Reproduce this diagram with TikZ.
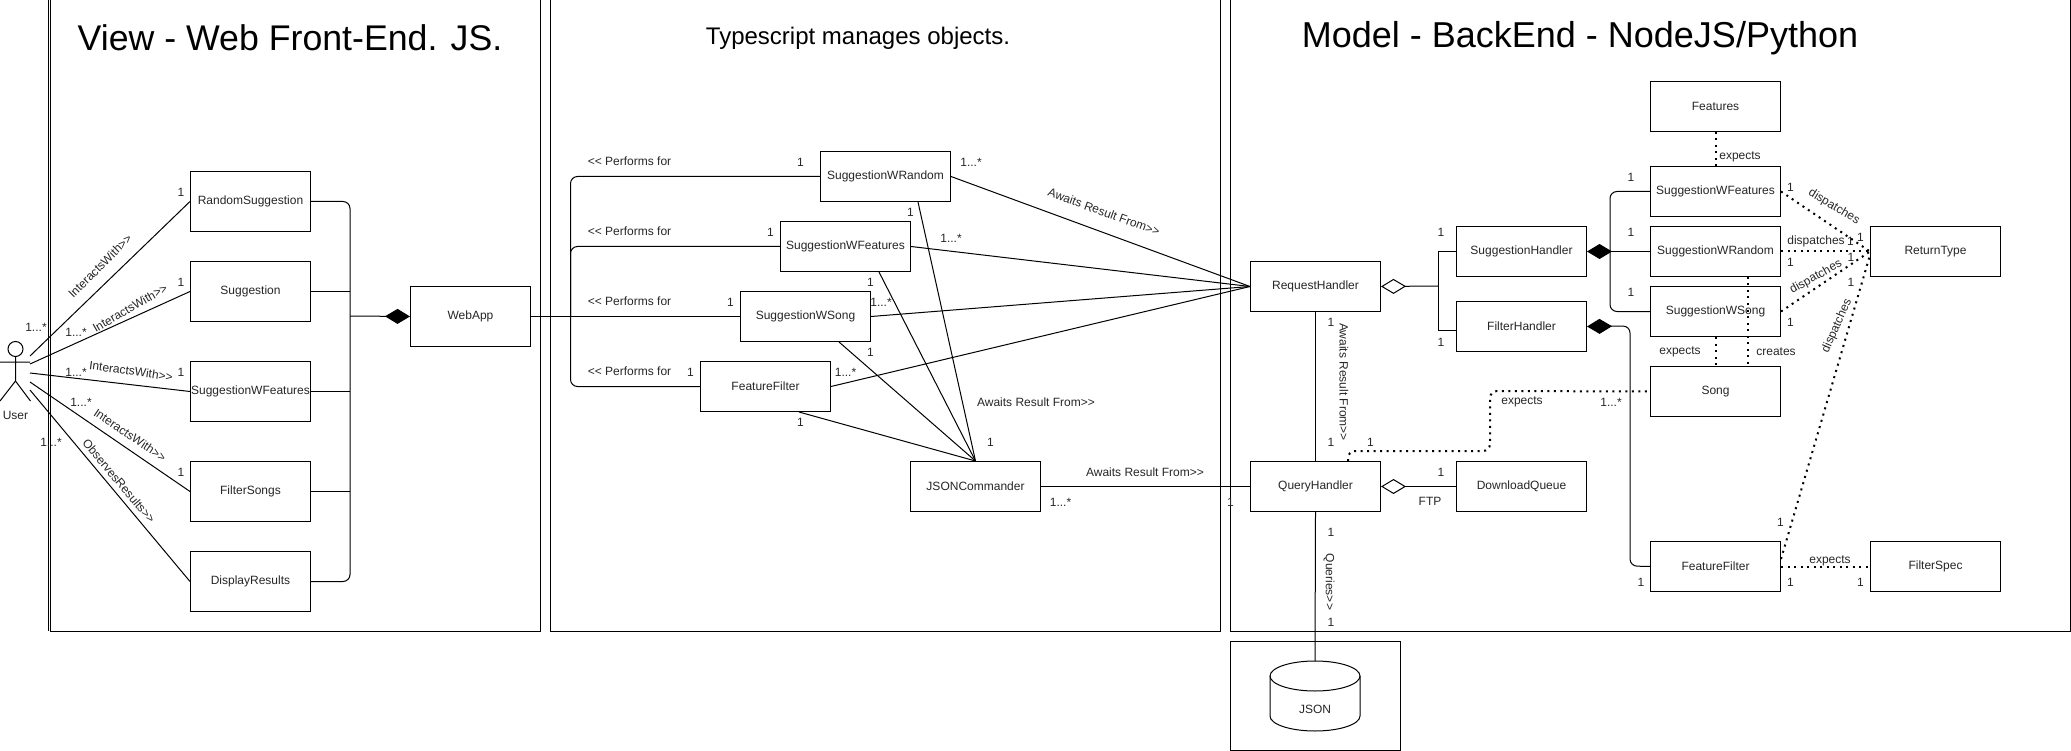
\documentclass[tikz,border=0pt]{standalone}
\usepackage{fontspec}
\setmainfont{Liberation Sans}
\usetikzlibrary{arrows.meta,calc}
\newcounter{labn}
\newcommand\mylab[4][]{\stepcounter{labn}\node[lbl,#1] (t\arabic{labn}) at (#2,#3) {#4};}
\tikzset{
  lbl/.style={inner sep=0pt,text=black!85,font=\fontsize{12}{14}\selectfont},
  box/.style={draw=black,fill=white,line width=1pt,inner sep=0pt,font=\fontsize{12}{14}\selectfont,text=black!85},
  ln/.style={draw=black,line width=1pt},
  dots/.style={draw=black,line width=2pt,dash pattern=on 2pt off 4.5pt},
  panel/.style={draw=black,line width=1pt,fill=none},
  title/.style={inner sep=0pt,text=black},
  fd/.style={{Diamond[length=25pt,width=15pt,fill=black]}-},
  od/.style={{Diamond[open,length=25pt,width=15pt,line width=1pt]}-},
}
\newcommand\bx[6]{\node[box,minimum width=#4pt,minimum height=#5pt,anchor=north west] (#1) at (#2,#3) {#6};}
\begin{document}
\begin{tikzpicture}[x=1pt,y=-1pt]
\useasboundingbox (0,-1) rectangle (2071,750);
% panels
\draw[panel] (48.5,-1) -- (48.5,630);
\draw[panel] (50,-1) rectangle (540.5,630);
\draw[panel] (550,-1) rectangle (1220.5,630);
\draw[panel] (1230,-1) rectangle (2070,630);
\draw[panel] (1230,640) rectangle (1400.5,749.5);
% titles
\node[title,font=\fontsize{35.7}{40}\selectfont] (titleview) at (290,37) {View - Web Front-End. JS.};
\node[title,font=\fontsize{24}{28}\selectfont] (titlemid) at (858,37) {Typescript manages objects.};
\node[title,font=\fontsize{36}{40}\selectfont] (titlemodel) at (1580,37) {Model - BackEnd - NodeJS/Python};
% actor
\draw[ln] (15.5,348) circle (7.5);
\draw[ln] (15.5,355.5) -- (15.5,380) (0,361) -- (30,361) (0,400) -- (15.5,380) -- (30.5,400);
\node[lbl] (user) at (15.5,414) {User};
\coordinate (u1) at (30,355);
\coordinate (u2) at (30,363);
\coordinate (u3) at (30,372);
\coordinate (u4) at (30,381);
\coordinate (u5) at (30,389);
% view boxes
\bx{rs}{190}{170}{120}{60}{RandomSuggestion}
\bx{sg}{190}{260}{120}{60}{Suggestion}
\bx{swf}{190}{360}{120}{60}{SuggestionWFeatures}
\bx{fs}{190}{460}{120}{60}{FilterSongs}
\bx{dr}{190}{550}{120}{60}{DisplayResults}
\bx{wa}{410}{285}{120}{60}{WebApp}
% middle boxes
\bx{mr}{820}{150}{130}{50}{SuggestionWRandom}
\bx{mf}{780}{220}{130}{50}{SuggestionWFeatures}
\bx{ms}{740}{290}{130}{50}{SuggestionWSong}
\bx{mff}{700}{360}{130}{50}{FeatureFilter}
\bx{jc}{910}{460}{130}{50}{JSONCommander}
% model boxes
\bx{rh}{1250}{260}{130}{50}{RequestHandler}
\bx{qh}{1250}{460}{130}{50}{QueryHandler}
\bx{sh}{1456}{225}{130}{50}{SuggestionHandler}
\bx{fh}{1456}{300}{130}{50}{FilterHandler}
\bx{dq}{1456}{460}{130}{50}{DownloadQueue}
\bx{fe}{1650}{80}{130}{50}{Features}
\bx{bf}{1650}{165}{130}{50}{SuggestionWFeatures}
\bx{br}{1650}{225}{130}{50}{SuggestionWRandom}
\bx{bs}{1650}{285}{130}{50}{SuggestionWSong}
\bx{so}{1650}{365}{130}{50}{Song}
\bx{bff}{1650}{540}{130}{50}{FeatureFilter}
\bx{rt}{1870}{225}{130}{50}{ReturnType}
\bx{fsp}{1870}{540}{130}{50}{FilterSpec}
% database
\coordinate (dbtop) at (1315,660);
\draw[ln,fill=white] (1270,675) arc[start angle=180,end angle=360,x radius=45,y radius=15] -- (1360,715) arc[start angle=0,end angle=180,x radius=45,y radius=15] -- cycle;
\draw[ln] (1270,675) arc[start angle=180,end angle=0,x radius=45,y radius=15];
\node[lbl] (jsonlab) at (1315,708) {JSON};
% user connectors
\draw[ln] (u1) -- (rs.west);
\draw[ln] (u2) -- (sg.west);
\draw[ln] (u3) -- (swf.west);
\draw[ln] (u4) -- (fs.west);
\draw[ln] (u5) -- (dr.west);
% view bus
\coordinate (busa) at (350,315);
\draw[ln,rounded corners=7] (rs.east) -- (rs.east -| busa) -- (dr.east -| busa) -- (dr.east);
\draw[ln] (sg.east) -- (sg.east -| busa);
\draw[ln] (swf.east) -- (swf.east -| busa);
\draw[ln] (fs.east) -- (fs.east -| busa);
\draw[ln,fd] (wa.west) -- (busa);
\draw[ln] (wa.east) -- (ms.west);
% performs for bus
\coordinate (busb) at (570.5,315);
\draw[ln,rounded corners=7] (mr.west) -- (mr.west -| busb) -- (mff.west -| busb) -- (mff.west);
\draw[ln,rounded corners=7] (mf.west) -- (mf.west -| busb) -- (busb);
% awaits to request
\draw[ln] (mr.east) -- (rh.west);
\draw[ln] (mf.east) -- (rh.west);
\draw[ln] (ms.east) -- (rh.west);
\draw[ln] (mff.east) -- (rh.west);
% to commander
\coordinate (c1) at ($(mr.south west)+(98,0)$);
\coordinate (c2) at ($(mf.south west)+(99,0)$);
\coordinate (c3) at ($(ms.south west)+(99,0)$);
\coordinate (c4) at ($(mff.south west)+(99,0)$);
\draw[ln] (c1) -- (jc.north);
\draw[ln] (c2) -- (jc.north);
\draw[ln] (c3) -- (jc.north);
\draw[ln] (c4) -- (jc.north);
\draw[ln] (jc.east) -- (qh.west);
% backend connectors
\draw[ln] (rh.south) -- (qh.north);
\draw[ln] (qh.south) -- (dbtop);
\coordinate (busc) at (1438,285);
\coordinate (fhin) at ($(fh.north west)+(0,29)$);
\draw[ln,od] (rh.east) -- (busc);
\draw[ln] (sh.west) -- (sh.west -| busc) -- (fhin -| busc) -- (fhin);
\draw[ln,od] (qh.east) -- (dq.west);
\coordinate (busd) at (1610,250);
\draw[ln,rounded corners=7] (bf.west) -- (bf.west -| busd) -- (bs.west -| busd) -- (bs.west);
\draw[ln,fd] (sh.east) -- (br.west);
\draw[ln,fd,rounded corners=7] (fh.east) -- (1630,325) -- (1630,565) -- (bff.west);
% dotted
\draw[dots] (fe.south) -- (bf.north);
\draw[dots] (bs.south) -- (so.north);
\coordinate (cr1) at ($(br.south west)+(98,0)$);
\coordinate (cr2) at ($(so.north west)+(98,0)$);
\draw[dots] (cr1) -- (cr2);
\coordinate (qd) at ($(qh.north west)+(98,0)$);
\draw[dots,rounded corners=7] (qd) -- (1348,450) -- (1490,450) -- (1490,390) -- (so.west);
\draw[dots] (bf.east) -- (rt.west);
\draw[dots] (br.east) -- (rt.west);
\draw[dots] (bs.east) -- (rt.west);
\coordinate (ff1) at ($(bff.north east)+(0,18)$);
\coordinate (rt1) at ($(rt.north west)+(0,29)$);
\draw[dots] (ff1) -- (rt1);
\draw[dots] (bff.east) -- (fsp.west);
% user labels
\mylab{36}{326}{1...*}
\mylab{76}{331}{1...*}
\mylab{76}{371}{1...*}
\mylab{81}{401}{1...*}
\mylab{51}{441}{1...*}
\mylab{181}{191}{1}
\mylab{181}{281}{1}
\mylab{181}{371}{1}
\mylab{181}{471}{1}
\mylab[rotate=45]{100}{265}{InteractsWith>{}>}
\mylab[rotate=30]{130}{307}{InteractsWith>{}>}
\mylab[rotate=-8]{131}{370}{InteractsWith>{}>}
\mylab[rotate=-34]{130}{434}{InteractsWith>{}>}
\mylab[rotate=-50]{119}{480}{ObservesResults>{}>}
% middle labels
\mylab{629.5}{160}{<{}< Performs for}
\mylab{629.5}{230}{<{}< Performs for}
\mylab{629.5}{300}{<{}< Performs for}
\mylab{629.5}{370}{<{}< Performs for}
\mylab{800.5}{161}{1}
\mylab{770.5}{231}{1}
\mylab{730.5}{301}{1}
\mylab{690.5}{371}{1}
\mylab{971}{161}{1...*}
\mylab{951}{237}{1...*}
\mylab{881}{301}{1...*}
\mylab{845.5}{371}{1...*}
\mylab{910.5}{211}{1}
\mylab{870.5}{281}{1}
\mylab{870.5}{351}{1}
\mylab{800.5}{421}{1}
\mylab{990.5}{441}{1}
\mylab{1060.5}{501}{1...*}
\mylab{1230.5}{501}{1}
\mylab{1036}{401}{Awaits Result From>{}>}
\mylab{1145}{471}{Awaits Result From>{}>}
\mylab[rotate=-20]{1104}{211}{Awaits Result From>{}>}
% backend labels
\mylab[rotate=-90]{1344}{381}{Awaits Result From>{}>}
\mylab[rotate=-90]{1329}{581}{Queries>{}>}
\mylab{1331}{321}{1}
\mylab{1331}{441}{1}
\mylab{1370.5}{441}{1}
\mylab{1331}{531}{1}
\mylab{1331}{621}{1}
\mylab{1441}{231}{1}
\mylab{1441}{341}{1}
\mylab{1441}{471}{1}
\mylab{1430}{500}{FTP}
\mylab{1522}{401}{expects}
\mylab{1611}{401}{1...*}
\mylab{1631}{176}{1}
\mylab{1631}{231}{1}
\mylab{1631}{291}{1}
\mylab{1641}{581}{1}
\mylab{1740}{156}{expects}
\mylab{1680}{351}{expects}
\mylab{1776}{351}{creates}
\mylab{1830}{560}{expects}
\mylab{1816}{240}{dispatches}
\mylab[rotate=-31]{1834}{206}{dispatches}
\mylab[rotate=29]{1816}{276}{dispatches}
\mylab[rotate=66]{1837}{325}{dispatches}
\mylab{1790.5}{186}{1}
\mylab{1860.5}{236}{1}
\mylab{1850.5}{240}{1}
\mylab{1790.5}{261}{1}
\mylab{1851}{256}{1}
\mylab{1790.5}{321}{1}
\mylab{1851}{281}{1}
\mylab{1780.5}{521}{1}
\mylab{1790.5}{581}{1}
\mylab{1860.5}{581}{1}
\end{tikzpicture}
\end{document}
